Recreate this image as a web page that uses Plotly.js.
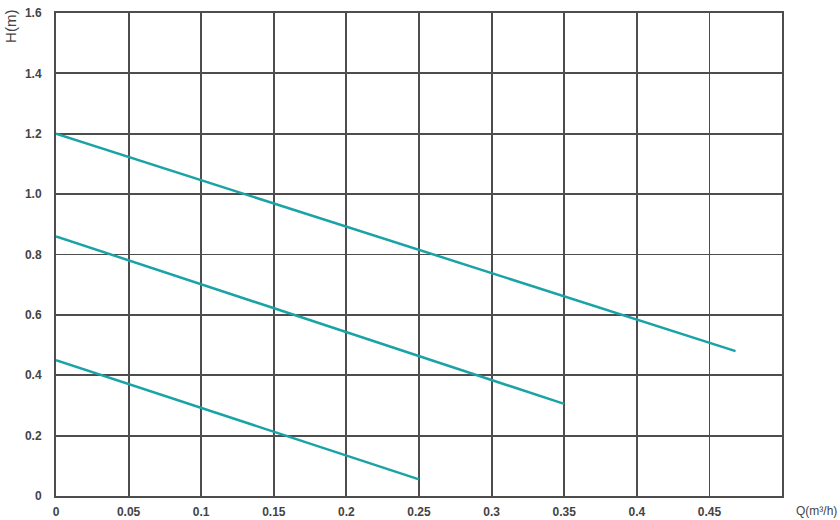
<!DOCTYPE html>
<html>
<head>
<meta charset="utf-8">
<script src="https://cdn.plot.ly/plotly-3.0.1.min.js"></script>
<style>html,body{margin:0;padding:0;background:#fff;}#chart{width:840px;height:520px;}</style>
</head>
<body>
<div id="chart"></div>
<script>
// Curve data (Q in m3/h, H in m)
var curve1Q = [0, 0.468];
var curve1H = [1.2, 0.48];
var curve2Q = [0, 0.35];
var curve2H = [0.86, 0.305];
var curve3Q = [0, 0.25];
var curve3H = [0.45, 0.055];

var xTickVals = [0, 0.05, 0.1, 0.15, 0.2, 0.25, 0.3, 0.35, 0.4, 0.45];
var xTickText = ["0", "0.05", "0.1", "0.15", "0.2", "0.25", "0.3", "0.35", "0.4", "0.45"];
var yTickVals = [0, 0.2, 0.4, 0.6, 0.8, 1.0, 1.2, 1.4, 1.6];
var yTickText = ["0", "0.2", "0.4", "0.6", "0.8", "1.0", "1.2", "1.4", "1.6"];

var lineColor = "#1aa3a6";
var gridColor = "#4d4d4d";
var fontFam = "Liberation Sans, Arial, sans-serif";
var textColor = "#444444";

function mk(x, y) {
  return {x: x, y: y, type: "scatter", mode: "lines",
          line: {color: lineColor, width: 2.5}, hoverinfo: "skip", showlegend: false};
}

var data = [mk(curve1Q, curve1H), mk(curve2Q, curve2H), mk(curve3Q, curve3H)];

var layout = {
  width: 840, height: 520,
  margin: {l: 56, r: 58, t: 13, b: 24, pad: 0},
  paper_bgcolor: "#fff", plot_bgcolor: "#fff",
  font: {family: fontFam, size: 12, color: textColor},
  xaxis: {
    range: [0, 0.5], tickvals: xTickVals, ticktext: xTickText,
    showgrid: true, gridcolor: gridColor, gridwidth: 1.8,
    showline: true, linecolor: gridColor, linewidth: 2, mirror: true,
    ticks: "", ticklabelstandoff: 4, zeroline: false,
    tickfont: {family: fontFam, size: 12, color: textColor, weight: 600}
  },
  yaxis: {
    range: [0, 1.6], tickvals: yTickVals, ticktext: yTickText,
    showgrid: true, gridcolor: gridColor, gridwidth: 1.8,
    showline: true, linecolor: gridColor, linewidth: 2, mirror: true,
    ticks: "", ticklabelstandoff: 10, zeroline: false,
    tickfont: {family: fontFam, size: 12, color: textColor, weight: 600}
  },
  annotations: [
    {text: "H(m)", xref: "paper", yref: "paper", x: -0.063, y: 1.01, xanchor: "center", yanchor: "top",
     textangle: -90, showarrow: false, font: {family: fontFam, size: 15, color: textColor}},
    {text: "Q(m³/h)", xref: "paper", yref: "paper", x: 1.0, y: 0, xshift: 34, yshift: -15, xanchor: "center", yanchor: "middle",
     showarrow: false, font: {family: fontFam, size: 12, color: textColor}}
  ]
};

Plotly.newPlot("chart", data, layout, {displayModeBar: false, staticPlot: true});
</script>
</body>
</html>
